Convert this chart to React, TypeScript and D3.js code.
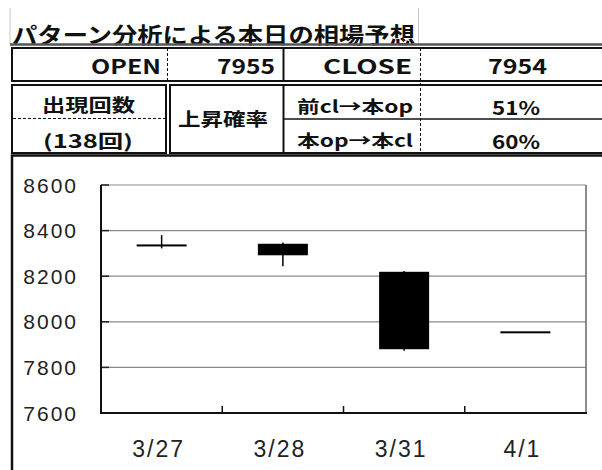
import { useMemo } from 'react';
import * as d3 from 'd3';

// candle data
const categories = ['3/27', '3/28', '3/31', '4/1'];
const opens = [8336, 8339, 8216, 7955];
const highs = [8380, 8348, 8223, 7955];
const lows = [8322, 8244, 7873, 7954];
const closes = [8334, 8295, 7883, 7954];
const yTicks = [7600, 7800, 8000, 8200, 8400, 8600];

// forecast table
const titleText = 'パターン分析による本日の相場予想';
const openForecast = 7955;
const closeForecast = 7954;
const occurrences = 138;
const probLabels = ['前cl→本op', '本op→本cl'];
const probValues = [51, 60];

const W = 602;
const H = 470;
const plot = { left: 101, right: 586, top: 185, bottom: 413 };
const jp = '"Noto Sans CJK JP", "Noto Sans", sans-serif';
const axisFont = '"Liberation Sans", Arial, sans-serif';

export default function App() {
	const x = useMemo(() => d3.scaleBand<string>().domain(categories).range([plot.left, plot.right]), []);
	const y = useMemo(() => d3.scaleLinear().domain([7600, 8600]).range([plot.bottom, plot.top]), []);
	const bodyW = x.bandwidth() * 0.4;
	// tick marks sit on the band boundaries
	const bandEdges = categories.slice(1).map((c) => x(c) as number);

	return (
		<svg width={W} height={H} style={{ position: 'absolute', left: 0, top: 0, background: '#fff' }}>
			{/* title row */}
			<line x1={10} y1={8} x2={10} y2={44} stroke="#c8c8c8" />
			<line x1={418.5} y1={8} x2={418.5} y2={44} stroke="#c8c8c8" />
			<text x={12} y={33} dominantBaseline="central" fontFamily={jp} fontSize={22} fontWeight={600} textLength={403} lengthAdjust="spacingAndGlyphs" fill="#111">
				{titleText}
			</text>
			<line x1={10} y1={44.5} x2={W} y2={44.5} stroke="#555" strokeWidth={2.5} />

			{/* row 1: OPEN / CLOSE */}
			<rect x={12} y={48} width={620} height={33} fill="none" stroke="#111" strokeWidth={2} />
			<line x1={167.5} y1={48} x2={167.5} y2={81} stroke="#111" strokeDasharray="3,2" />
			<line x1={283.5} y1={48} x2={283.5} y2={81} stroke="#111" strokeWidth={2} />
			<line x1={420.5} y1={48} x2={420.5} y2={153} stroke="#111" strokeDasharray="3,2" />
			<text x={161} y={65} textAnchor="end" dominantBaseline="central" fontFamily={jp} fontSize={20} fontWeight={700} textLength={70} lengthAdjust="spacingAndGlyphs" fill="#111">OPEN</text>
			<text x={275} y={65} textAnchor="end" dominantBaseline="central" fontFamily={jp} fontSize={20} fontWeight={700} textLength={58} lengthAdjust="spacingAndGlyphs" fill="#111">{openForecast}</text>
			<text x={412} y={65} textAnchor="end" dominantBaseline="central" fontFamily={jp} fontSize={20} fontWeight={700} textLength={89} lengthAdjust="spacingAndGlyphs" fill="#111">CLOSE</text>
			<text x={517.5} y={65} textAnchor="middle" dominantBaseline="central" fontFamily={jp} fontSize={20} fontWeight={700} textLength={59} lengthAdjust="spacingAndGlyphs" fill="#111">{closeForecast}</text>

			{/* row 2: occurrences and probabilities */}
			<rect x={12} y={85} width={154} height={68} fill="none" stroke="#111" strokeWidth={2} />
			<rect x={170} y={85} width={460} height={68} fill="none" stroke="#111" strokeWidth={2} />
			<line x1={13} y1={118.5} x2={165} y2={118.5} stroke="#111" strokeDasharray="3,2" />
			<line x1={283.5} y1={85} x2={283.5} y2={153} stroke="#111" strokeWidth={2} />
			<line x1={283} y1={119} x2={W} y2={119} stroke="#111" strokeWidth={1.5} />
			<text x={88.5} y={104} textAnchor="middle" dominantBaseline="central" fontFamily={jp} fontSize={18} fontWeight={700} textLength={93} lengthAdjust="spacingAndGlyphs" fill="#111">出現回数</text>
			<text x={88} y={140} textAnchor="middle" dominantBaseline="central" fontFamily={jp} fontSize={18} fontWeight={700} textLength={90} lengthAdjust="spacingAndGlyphs" fill="#111">{`(${occurrences}回)`}</text>
			<text x={223} y={117.5} textAnchor="middle" dominantBaseline="central" fontFamily={jp} fontSize={18} fontWeight={700} textLength={90} lengthAdjust="spacingAndGlyphs" fill="#111">上昇確率</text>
			{probLabels.map((label, i) => (
				<text key={label} x={413} y={i === 0 ? 105 : 139} textAnchor="end" dominantBaseline="central" fontFamily={jp} fontSize={17} fontWeight={700} textLength={116} lengthAdjust="spacingAndGlyphs" fill="#111">
					{label}
				</text>
			))}
			{probValues.map((v, i) => (
				<text key={i} x={516} y={i === 0 ? 106 : 140} textAnchor="middle" dominantBaseline="central" fontFamily={jp} fontSize={19} fontWeight={700} textLength={48} lengthAdjust="spacingAndGlyphs" fill="#111">
					{`${v}%`}
				</text>
			))}

			{/* chart frame */}
			<rect x={12} y={155.5} width={640} height={340} fill="none" stroke="#111" strokeWidth={2.5} />

			{/* grid */}
			{yTicks.map((t) => (
				<g key={t}>
					<line x1={plot.left} y1={y(t)} x2={plot.right} y2={y(t)} stroke="#8a8a8a" strokeWidth={1.2} />
					<line x1={plot.left} y1={y(t)} x2={plot.left + 8} y2={y(t)} stroke="#222" strokeWidth={1.5} />
					<text x={78} y={y(t)} textAnchor="end" dominantBaseline="central" fontFamily={axisFont} fontSize={21} letterSpacing={2} fill="#222">
						{t}
					</text>
				</g>
			))}
			<line x1={plot.right} y1={plot.top} x2={plot.right} y2={plot.bottom} stroke="#666" strokeWidth={1.5} />
			<line x1={plot.left} y1={plot.top} x2={plot.left} y2={plot.bottom + 1} stroke="#111" strokeWidth={2} />
			<line x1={plot.left - 1} y1={plot.bottom} x2={plot.right + 1} y2={plot.bottom} stroke="#111" strokeWidth={2} />
			{bandEdges.map((e) => (
				<line key={e} x1={e} y1={plot.bottom} x2={e} y2={plot.bottom - 7} stroke="#111" strokeWidth={1.5} />
			))}
			{categories.map((c) => (
				<text key={c} x={(x(c) as number) + x.bandwidth() / 2 - 3} y={449} textAnchor="middle" dominantBaseline="central" fontFamily={axisFont} fontSize={23} letterSpacing={2} fill="#222">
					{c}
				</text>
			))}

			{/* candles */}
			{categories.map((c, i) => {
				const cx = (x(c) as number) + x.bandwidth() / 2;
				const top = y(Math.max(opens[i], closes[i]));
				const bot = y(Math.min(opens[i], closes[i]));
				const bearish = closes[i] <= opens[i];
				return (
					<g key={c}>
						<line x1={cx} y1={y(highs[i])} x2={cx} y2={y(lows[i])} stroke="#000" strokeWidth={1.5} />
						<rect x={cx - bodyW / 2} y={top} width={bodyW} height={Math.max(bot - top, 0.5)} fill={bearish ? '#000' : '#fff'} stroke="#000" strokeWidth={1.5} />
					</g>
				);
			})}
		</svg>
	);
}
